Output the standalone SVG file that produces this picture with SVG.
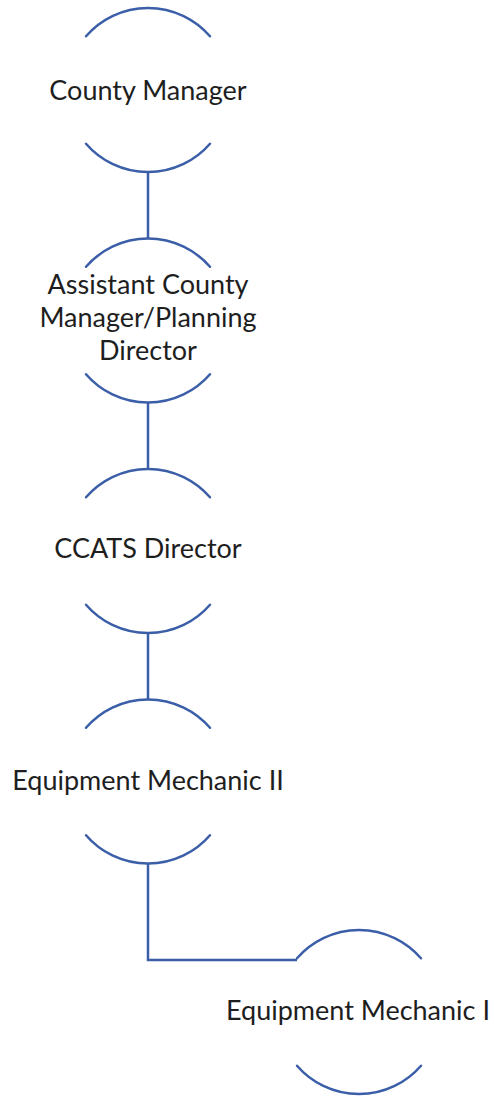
<svg xmlns="http://www.w3.org/2000/svg" width="495" height="1097" viewBox="0 0 495 1097">
<style>
.arc{fill:none;stroke:#3B5EA8;stroke-width:2.5;stroke-linecap:round}
.conn{fill:none;stroke:#3B5EA8;stroke-width:2.5}
.t{font-family:Lato,"Open Sans","Liberation Sans",sans-serif;font-size:27px;fill:#1e1e1e;text-anchor:middle}
</style>
<rect width="495" height="1097" fill="#fff"/>
<g id="connectors">
<path class="conn" d="M148 172V238"/>
<path class="conn" d="M148 402.5V469"/>
<path class="conn" d="M148 633V699.5"/>
<path class="conn" d="M148 863.5V960H297"/>
</g>
<g id="n1">
<path class="arc" d="M86 36.3A82 82 0 0 1 210 36.3"/>
<path class="arc" d="M86 143.7A82 82 0 0 0 210 143.7"/>
<text class="t" x="148" y="100">County Manager</text>
</g>
<g id="n2">
<path class="arc" d="M86 266.8A82 82 0 0 1 210 266.8"/>
<path class="arc" d="M86 374.2A82 82 0 0 0 210 374.2"/>
<text class="t" x="148" y="294">Assistant County</text>
<text class="t" x="148" y="327">Manager/Planning</text>
<text class="t" x="148" y="360">Director</text>
</g>
<g id="n3">
<path class="arc" d="M86 497.3A82 82 0 0 1 210 497.3"/>
<path class="arc" d="M86 604.7A82 82 0 0 0 210 604.7"/>
<text class="t" x="148" y="558">CCATS Director</text>
</g>
<g id="n4">
<path class="arc" d="M86 727.8A82 82 0 0 1 210 727.8"/>
<path class="arc" d="M86 835.2A82 82 0 0 0 210 835.2"/>
<text class="t" x="148" y="790">Equipment Mechanic II</text>
</g>
<g id="n5">
<path class="arc" d="M297 958.3A82 82 0 0 1 421 958.3"/>
<path class="arc" d="M297 1065.7A82 82 0 0 0 421 1065.7"/>
<text class="t" x="358" y="1020">Equipment Mechanic I</text>
</g>
</svg>
